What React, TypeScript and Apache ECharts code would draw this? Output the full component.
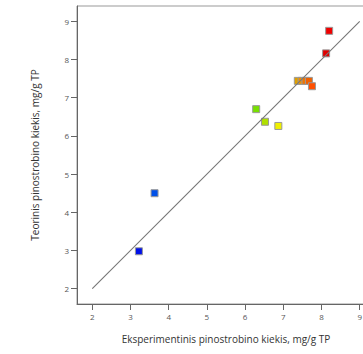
import React, { useEffect, useRef } from "react";
import * as echarts from "echarts";

const experimental = [3.22, 3.63, 6.29, 6.52, 6.87, 7.38, 7.48, 7.58, 7.67, 7.75, 8.12, 8.2];
const theoretical = [2.98, 4.5, 6.7, 6.37, 6.26, 7.44, 7.44, 7.44, 7.44, 7.3, 8.16, 8.75];
const pointColors = [
  "#0010e8",
  "#0050e8",
  "#78e000",
  "#b0e000",
  "#f0f000",
  "#e0a000",
  "#f09000",
  "#f07400",
  "#f06000",
  "#ff5000",
  "#e00000",
  "#f00000",
];
const lineX = [2, 9];
const lineY = [2, 9];
const tickValues = [2, 3, 4, 5, 6, 7, 8, 9];
const xTitle = "Eksperimentinis pinostrobino kiekis, mg/g TP";
const yTitle = "Teorinis pinostrobino kiekis, mg/g TP";

export default function App() {
  const ref = useRef<HTMLDivElement>(null);
  useEffect(() => {
    if (!ref.current) return;
    const chart = echarts.init(ref.current, null, { renderer: "svg" });
    const font = "'Open Sans', sans-serif";
    const axisCommon = (name: string, gap: number) => ({
      type: "value" as const,
      min: 1.6,
      max: 9.4,
      name,
      nameLocation: "middle" as const,
      nameGap: gap,
      nameTextStyle: { fontFamily: font, fontSize: 10, color: "#333" },
      splitLine: { show: false },
      axisLine: { show: true, lineStyle: { color: "#666", width: 1 } },
      axisTick: {
        show: true,
        length: 6,
        customValues: tickValues,
        lineStyle: { color: "#666" },
      },
      axisLabel: {
        customValues: tickValues,
        fontFamily: font,
        fontSize: 8,
        color: "#555",
        margin: 8,
      },
    });
    chart.setOption({
      animation: false,
      grid: {
        left: 77,
        top: 6,
        right: 1,
        bottom: 50,
        show: true,
        borderColor: "#999",
        borderWidth: 1,
      },
      xAxis: axisCommon(xTitle, 30),
      yAxis: axisCommon(yTitle, 37),
      series: [
        {
          type: "scatter",
          symbol: "rect",
          symbolSize: 7,
          data: experimental.map((x, i) => ({
            value: [x, theoretical[i]],
            itemStyle: {
              color: pointColors[i],
              borderColor: "#999",
              borderWidth: 1,
              opacity: 1,
            },
          })),
          z: 2,
        },
        {
          type: "line",
          data: lineX.map((x, i) => [x, lineY[i]]),
          showSymbol: false,
          symbol: "none",
          lineStyle: { color: "#777", width: 1.1 },
          silent: true,
          z: 3,
        },
      ],
    });
    return () => chart.dispose();
  }, []);
  return (
    <div
      ref={ref}
      style={{ position: "fixed", left: 0, top: 0, width: 376, height: 354, background: "#fff" }}
    />
  );
}
